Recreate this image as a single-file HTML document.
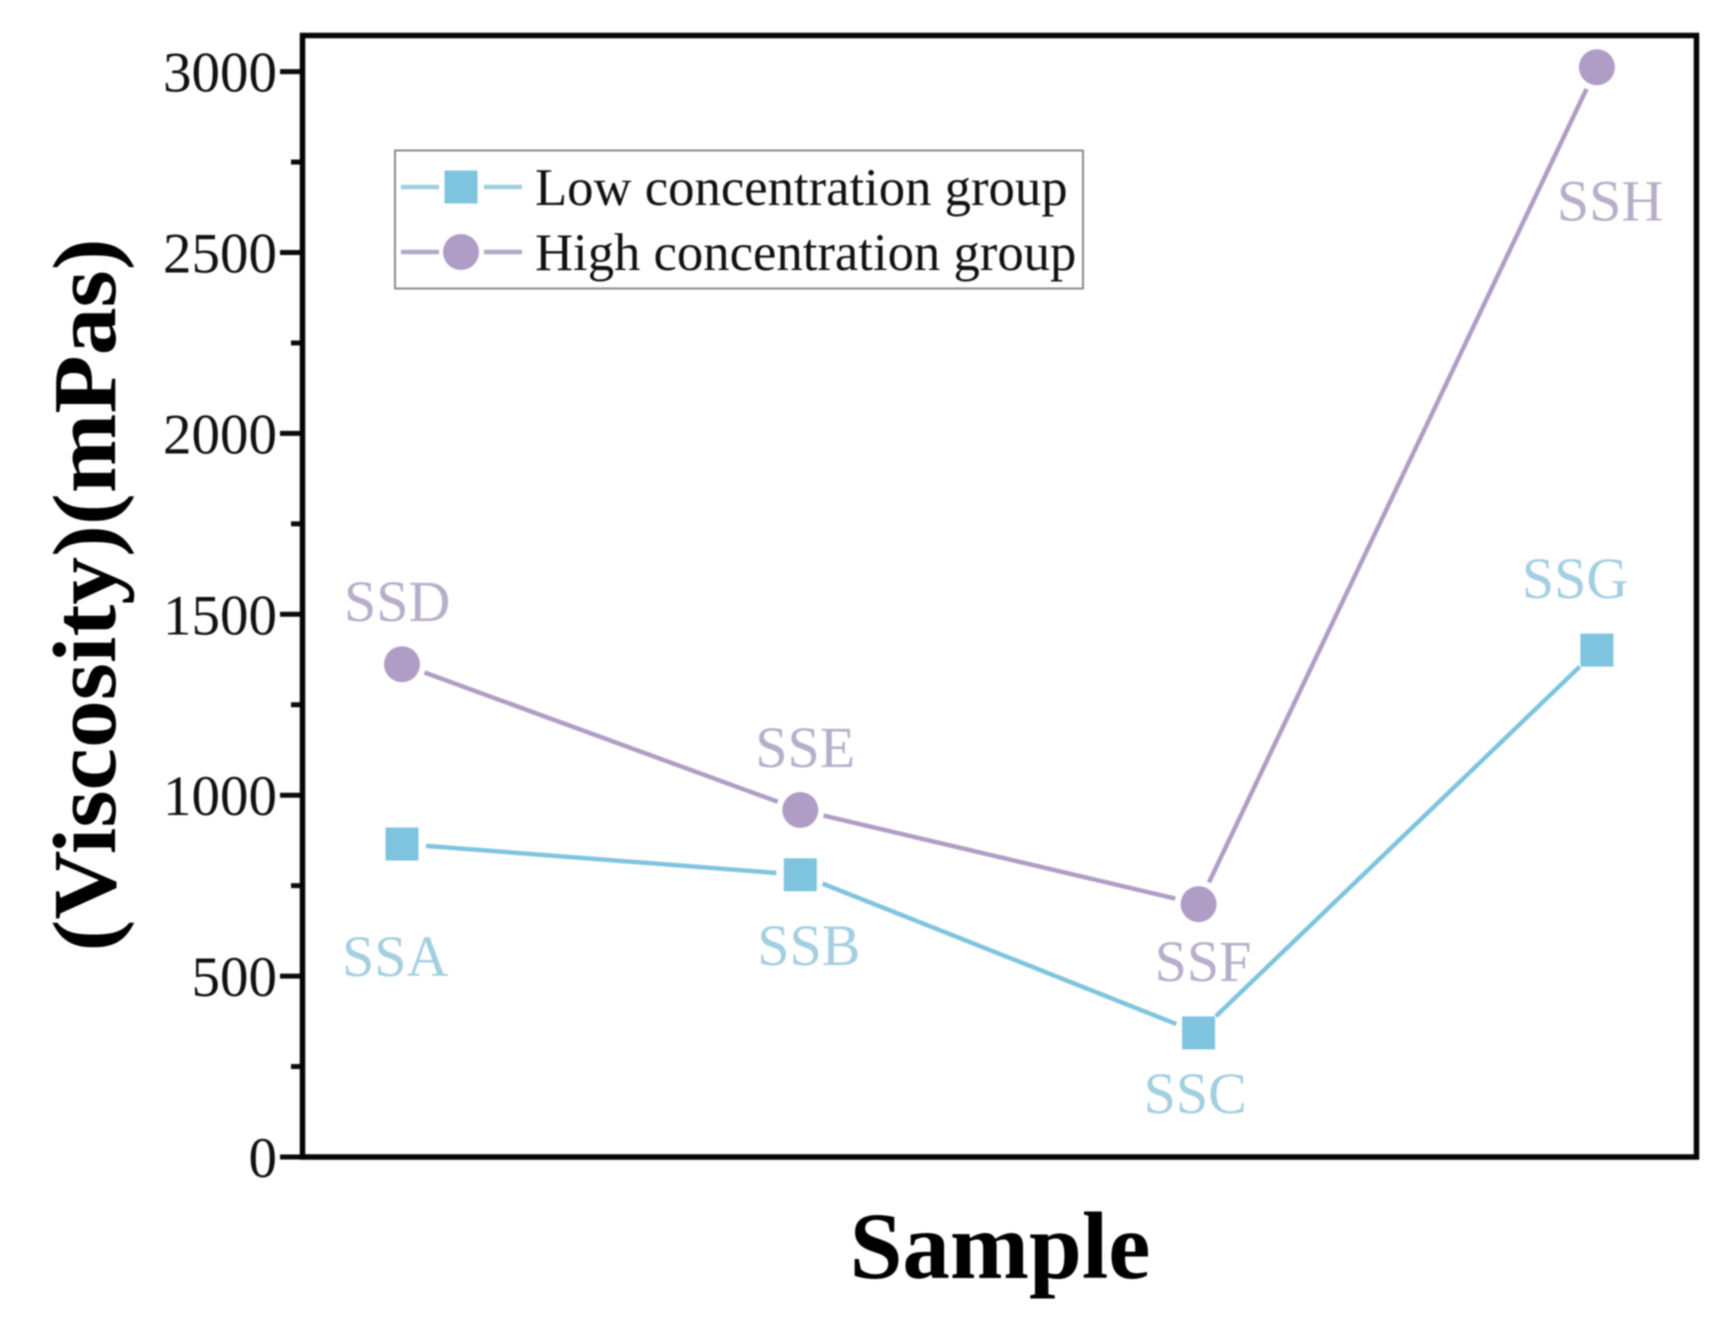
<!DOCTYPE html>
<html lang="en">
<head>
<meta charset="utf-8">
<title>Viscosity by sample</title>
<style>
html,body{margin:0;padding:0;background:#fff;}
svg{display:block;filter:blur(0.9px);}
text{font-family:"Liberation Serif",serif;}
</style>
</head>
<body>
<svg id="chart" xmlns="http://www.w3.org/2000/svg" width="1733" height="1332" viewBox="0 0 1733 1332">
  <rect x="0" y="0" width="1733" height="1332" fill="#ffffff"/>
  <g id="series-layer"></g>
  <g id="label-layer"></g>
  <g id="axis-layer"></g>
  <rect x="302.5" y="35.5" width="1394" height="1121.5" fill="none" stroke="#050505" stroke-width="5.5"/>
  <text transform="translate(115,595) rotate(-90)" text-anchor="middle" font-size="90" font-weight="700" fill="#000" textLength="713" lengthAdjust="spacingAndGlyphs">(Viscosity)(mPas)</text>
  <text x="1000" y="1278" text-anchor="middle" font-size="95" font-weight="700" fill="#000">Sample</text>
  <g>
    <rect x="395" y="150.5" width="688" height="138" fill="#fff" stroke="#8a8a8a" stroke-width="2"/>
    <g>
      <line x1="401" y1="187" x2="439" y2="187" stroke="#9fcfe0" stroke-width="4.5"/>
      <line x1="484" y1="187" x2="522" y2="187" stroke="#9fcfe0" stroke-width="4.5"/>
      <rect x="444.5" y="170.5" width="33" height="33" fill="#7fc4de"/>
      <text x="535" y="205" font-size="52.7" fill="#111">Low concentration group</text>
    </g>
    <g>
      <line x1="401" y1="252" x2="439" y2="252" stroke="#b3a8c6" stroke-width="4.5"/>
      <line x1="484" y1="252" x2="522" y2="252" stroke="#b3a8c6" stroke-width="4.5"/>
      <circle cx="461" cy="252" r="18" fill="#b09dc5"/>
      <text x="535" y="270" font-size="52.7" fill="#111">High concentration group</text>
    </g>
  </g>
</svg>
<script>
const categoryIndex = [0, 1, 2, 3];
const lowValues = [865, 780, 343, 1401];
const highValues = [1362, 959, 699, 3012];
const lowLabels = ["SSA", "SSB", "SSC", "SSG"];
const highLabels = ["SSD", "SSE", "SSF", "SSH"];
const majorTicks = [0, 500, 1000, 1500, 2000, 2500, 3000];
const majorTickLabels = ["0", "500", "1000", "1500", "2000", "2500", "3000"];
const minorTicks = [250, 750, 1250, 1750, 2250, 2750];

const NS = "http://www.w3.org/2000/svg";
const LOW_COLOR = "#7fc4de", HIGH_COLOR = "#b09dc5";
const LOW_TEXT = "#a3cfe0", HIGH_TEXT = "#b8aec9";
const GAP = 24;

function xScale(i) { return 402 + i * 398.3; }
function yScale(v) { return 1157 - v * 0.3618; }

function mk(tag, attrs, parent) {
  const el = document.createElementNS(NS, tag);
  for (const k in attrs) el.setAttribute(k, attrs[k]);
  parent.appendChild(el);
  return el;
}

const axisLayer = document.getElementById("axis-layer");
majorTicks.forEach(function (v, i) {
  const t = mk("line", {x1: 280, x2: 302, y1: yScale(v), y2: yScale(v), stroke: "#0a0a0a", "stroke-width": 5}, axisLayer);
  
  
  const l = mk("text", {x: 277, y: yScale(v) + 20, "text-anchor": "end", "font-size": 57, fill: "#111"}, axisLayer);
  
  
  l.textContent = majorTickLabels[i];
});
minorTicks.forEach(function (v) {
  const t = mk("line", {x1: 291, x2: 302, y1: yScale(v), y2: yScale(v), stroke: "#0a0a0a", "stroke-width": 5}, axisLayer);
  
  
});

const seriesLayer = document.getElementById("series-layer");
function drawSeries(values, color, kind) {
  for (let i = 0; i < values.length - 1; i++) {
    const x1 = xScale(categoryIndex[i]), y1 = yScale(values[i]);
    const x2 = xScale(categoryIndex[i + 1]), y2 = yScale(values[i + 1]);
    const d = Math.hypot(x2 - x1, y2 - y1);
    const ux = (x2 - x1) / d, uy = (y2 - y1) / d;
    const seg = mk("line", {
      x1: x1 + ux * GAP, y1: y1 + uy * GAP,
      x2: x2 - ux * GAP, y2: y2 - uy * GAP,
      stroke: color, "stroke-width": 4.5
    }, seriesLayer);
    
    
  }
  values.forEach(function (v, i) {
    const cx = xScale(categoryIndex[i]), cy = yScale(v);
    let m;
    if (kind === "low") {
      m = mk("rect", {x: cx - 16.5, y: cy - 16.5, width: 33, height: 33, fill: color}, seriesLayer);
    } else {
      m = mk("circle", {cx: cx, cy: cy, r: 18, fill: color}, seriesLayer);
    }
    
    
  });
}
drawSeries(lowValues, LOW_COLOR, "low");
drawSeries(highValues, HIGH_COLOR, "high");

const labelLayer = document.getElementById("label-layer");
function drawLabels(values, labels, offsets, color) {
  labels.forEach(function (txt, i) {
    const l = mk("text", {
      x: xScale(categoryIndex[i]) + offsets[i][0],
      y: yScale(values[i]) + offsets[i][1],
      "font-size": 58, fill: color
    }, labelLayer);
    
    
    l.textContent = txt;
  });
}
drawLabels(lowValues, lowLabels, [[-60, 132], [-43, 90], [-55, 80], [-75, -52]], LOW_TEXT);
drawLabels(highValues, highLabels, [[-58, -43], [-45, -43], [-44, 77], [-40, 153]], HIGH_TEXT);
</script>
</body>
</html>
